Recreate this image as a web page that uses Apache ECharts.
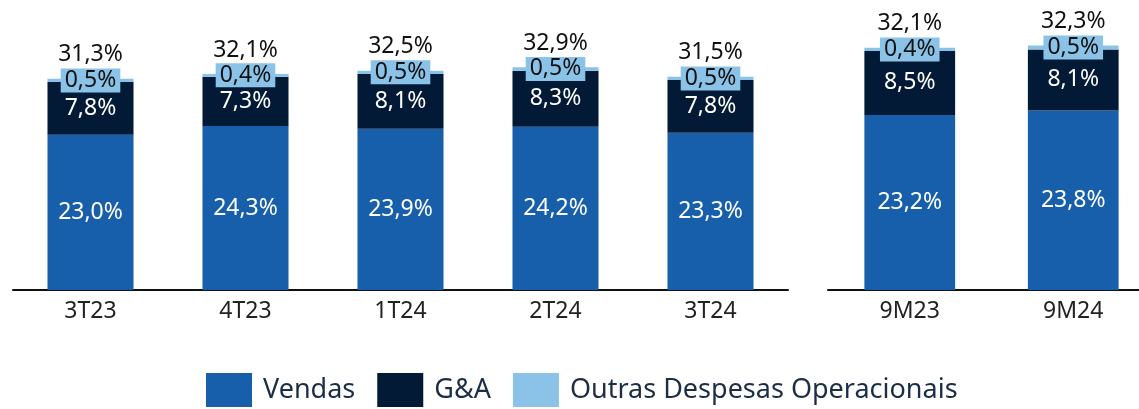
<!DOCTYPE html>
<html>
<head>
<meta charset="utf-8">
<script src="https://cdn.jsdelivr.net/npm/echarts@6/dist/echarts.min.js"></script>
<style>
  html, body { margin: 0; padding: 0; background: #fff; }
  #chart { width: 1139px; height: 409px; }
</style>
</head>
<body>
<div id="chart"></div>
<script>
// trimestres
const categoriesQ = ["3T23", "4T23", "1T24", "2T24", "3T24"];
const vendasQ = [23.0, 24.3, 23.9, 24.2, 23.3];
const gaQ = [7.8, 7.3, 8.1, 8.3, 7.8];
const outrasQ = [0.5, 0.4, 0.5, 0.5, 0.5];
const totalQ = [31.3, 32.1, 32.5, 32.9, 31.5];

// acumulado 9 meses
const categoriesM = ["9M23", "9M24"];
const vendasM = [23.2, 23.8];
const gaM = [8.5, 8.1];
const outrasM = [0.4, 0.5];
const totalM = [32.1, 32.3];

const FONT = "Noto Sans";
const fmt = (v) => v.toFixed(1).replace(".", ",") + "%";

const chart = echarts.init(document.getElementById("chart"));

function groupSeries(idx, vendas, ga, outras, total) {
  const stack = "s" + idx;
  const base = { type: "bar", stack: stack, xAxisIndex: idx, yAxisIndex: idx, barWidth: "55.5%" };
  return [
    {
      ...base,
      name: "Vendas",
      data: vendas,
      itemStyle: { color: "#175FAA" },
      label: { show: true, position: "inside", color: "#fff", fontSize: 23, fontFamily: FONT, formatter: (p) => fmt(p.value) },
    },
    {
      ...base,
      name: "G&A",
      data: ga,
      itemStyle: { color: "#021A35" },
      label: { show: true, position: "inside", color: "#fff", fontSize: 23, fontFamily: FONT, formatter: (p) => fmt(p.value) },
    },
    {
      ...base,
      name: "Outras Despesas Operacionais",
      data: outras,
      itemStyle: { color: "#8BC3E8" },
      label: {
        show: true, position: "inside", color: "#111", fontSize: 23, fontFamily: FONT,
        backgroundColor: "#8BC3E8", padding: [0, 4], lineHeight: 24,
        formatter: (p) => fmt(p.value),
      },
    },
    {
      ...base,
      name: "Total",
      data: total.map(() => 0),
      itemStyle: { color: "transparent" },
      label: {
        show: true, position: "top", distance: 11, color: "#111", fontSize: 23, fontFamily: FONT, lineHeight: 26,
        formatter: (p) => fmt(total[p.dataIndex]),
      },
      tooltip: { show: false },
    },
  ];
}

const xAxisCommon = {
  type: "category",
  axisLine: { lineStyle: { color: "#111", width: 2 } },
  axisTick: { show: false },
  axisLabel: { color: "#222", fontSize: 23, fontFamily: FONT, margin: 10 },
};

const option = {
  animation: false,
  grid: [
    { left: 13, width: 775, top: 20, height: 270, outerBoundsMode: "none" },
    { left: 828, width: 327, top: 26, height: 264, outerBoundsMode: "none" },
  ],
  xAxis: [
    { ...xAxisCommon, gridIndex: 0, data: categoriesQ },
    { ...xAxisCommon, gridIndex: 1, data: categoriesM },
  ],
  yAxis: [
    { type: "value", gridIndex: 0, min: 0, max: 40, show: false },
    { type: "value", gridIndex: 1, min: 0, max: 35, show: false },
  ],
  legend: {
    data: ["Vendas", "G&A", "Outras Despesas Operacionais"],
    left: 201,
    top: 368,
    icon: "rect",
    itemWidth: 46,
    itemHeight: 34,
    itemGap: 22,
    textStyle: { color: "#1C2E45", fontSize: 27, fontFamily: FONT, padding: [0, 0, 0, 6] },
  },
  series: [
    ...groupSeries(0, vendasQ, gaQ, outrasQ, totalQ),
    ...groupSeries(1, vendasM, gaM, outrasM, totalM),
  ],
};

chart.setOption(option);
</script>
</body>
</html>
